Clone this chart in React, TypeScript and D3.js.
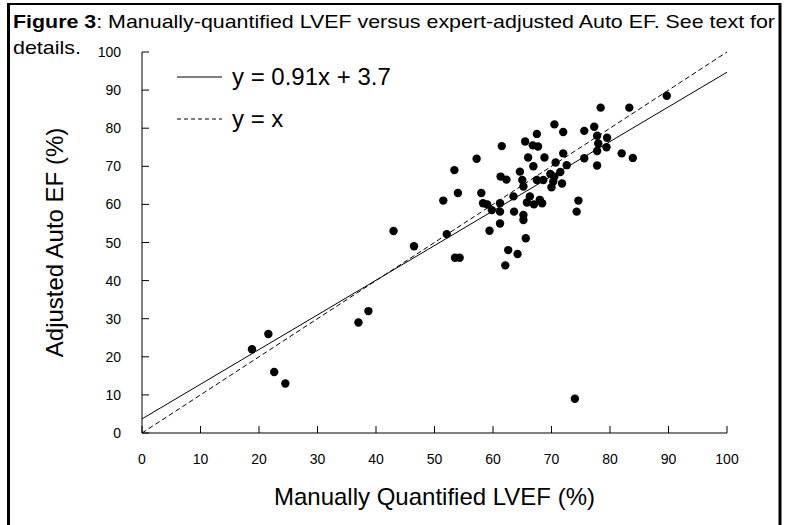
import * as d3 from 'd3';

// Manually quantified LVEF (x) vs expert-adjusted Auto EF (y)
const manualLVEF = [
  18.8, 21.6, 22.6, 24.5, 37, 38.7, 43, 46.5, 74,
  51.5, 52.1, 53.4, 54, 53.5, 54.3, 57.2, 58,
  58.3, 59.8, 61.2, 61.2, 59.4, 61.2, 62.6, 64.2, 62.1, 65.6, 65.2, 65.2, 63.6,
  61.5, 65.5, 66.8, 67.7, 67.5, 70.5, 72,
  66, 68.8, 72, 70.7, 72.6, 71.5, 70.5,
  61.3, 62.3, 64.6, 66.9, 65, 65.2, 67.5, 68.6, 69.8, 70.3, 70, 71.8,
  74.6, 74.3, 59, 63.5, 66.3, 68, 65.8, 67, 68.4,
  75.6, 77.3, 78.4, 83.3, 89.7, 77.8, 79.5, 78, 79.4, 77.8, 82, 83.9, 77.8, 75.6,
];
const adjustedAutoEF = [
  22, 26, 16, 13, 29, 32, 53, 49, 9,
  61, 52.2, 69, 63, 46, 46, 72, 63,
  60.3, 58.5, 58.1, 60.3, 53.1, 55, 48, 47, 44, 51.1, 57.2, 55.9, 58.1,
  75.3, 76.5, 75.5, 75.2, 78.5, 81, 79,
  72.3, 72.3, 73.4, 71, 70.3, 68.5, 67.3,
  67.3, 66.5, 68.6, 70, 66.4, 64.7, 66.4, 66.4, 68, 66, 64.5, 65.5,
  61, 58.1, 60, 62.1, 62.1, 61.2, 60.5, 60, 60.3,
  79.3, 80.4, 85.4, 85.4, 88.5, 78, 77.5, 76, 75, 74, 73.4, 72.2, 70.2, 72.1,
];
const xTicks = [0, 10, 20, 30, 40, 50, 60, 70, 80, 90, 100];
const yTicks = [0, 10, 20, 30, 40, 50, 60, 70, 80, 90, 100];
const fitSlope = 0.91;
const fitIntercept = 3.7;

const W = 796;
const H = 525;
const font = 'Liberation Sans, Arial, Helvetica, sans-serif';
const tickFont = 'Liberation Sans Narrow, Arial Narrow, Liberation Sans, Arial, sans-serif';

export default function App() {
  const x = d3.scaleLinear().domain([0, 100]).range([142, 727]);
  const y = d3.scaleLinear().domain([0, 100]).range([433, 52]);

  const points = manualLVEF.map((v, i) => ({ x: v, y: adjustedAutoEF[i] }));
  const line = d3
    .line<number>()
    .x((d) => x(d))
    .y((d) => y(d));
  const fitLine = d3
    .line<number>()
    .x((d) => x(d))
    .y((d) => y(fitSlope * d + fitIntercept));

  return (
    <svg
      width={W}
      height={H}
      style={{ position: 'absolute', left: 0, top: 0, background: '#fff' }}
      fontFamily={font}
    >
      {/* frame */}
      <line x1={7} x2={781} y1={4} y2={4} stroke="#000" strokeWidth={2} />
      <line x1={8.5} x2={8.5} y1={3} y2={H} stroke="#000" strokeWidth={3} />
      <line x1={780} x2={780} y1={3} y2={H} stroke="#000" strokeWidth={3} />

      {/* caption */}
      <text x={13} y={28} fontSize={19} fill="#000" textLength={762} lengthAdjust="spacingAndGlyphs">
        <tspan fontWeight="bold">Figure 3</tspan>
        <tspan>: Manually-quantified LVEF versus expert-adjusted Auto EF. See text for</tspan>
      </text>
      <text x={13} y={54} fontSize={19} fill="#000" textLength={68} lengthAdjust="spacingAndGlyphs">
        details.
      </text>

      {/* axes */}
      <path
        d={`M${x(0)},${y(100)}V${y(0)}H${x(100)}`}
        fill="none"
        stroke="#000"
        strokeWidth={1}
      />
      {yTicks.map((t) => (
        <g key={'y' + t}>
          <line x1={x(0)} x2={x(0) + 7} y1={y(t)} y2={y(t)} stroke="#000" />
          <text
            x={121}
            y={y(t)}
            dy="0.36em"
            textAnchor="end"
            fontSize={14}
            fontFamily={tickFont}
            fill="#000"
          >
            {t}
          </text>
        </g>
      ))}
      {xTicks.map((t) => (
        <g key={'x' + t}>
          <line x1={x(t)} x2={x(t)} y1={y(0)} y2={y(0) - 7} stroke="#000" />
          <text
            x={x(t)}
            y={464}
            textAnchor="middle"
            fontSize={14}
            fontFamily={tickFont}
            fill="#000"
          >
            {t}
          </text>
        </g>
      ))}

      {/* reference lines */}
      <path
        d={line([0, 100]) || ''}
        fill="none"
        stroke="#000"
        strokeWidth={1}
        strokeDasharray="5,3"
      />
      <path d={fitLine([0, 100]) || ''} fill="none" stroke="#000" strokeWidth={1} />

      {/* points */}
      {points.map((p, i) => (
        <circle key={i} cx={x(p.x)} cy={y(p.y)} r={4.2} fill="#000" />
      ))}

      {/* legend */}
      <line x1={177} x2={222} y1={77} y2={77} stroke="#000" />
      <text x={232} y={85} fontSize={24} fill="#000">y = 0.91x + 3.7</text>
      <line x1={177} x2={222} y1={119} y2={119} stroke="#000" strokeDasharray="4,3" />
      <text x={232} y={127} fontSize={24} fill="#000">y = x</text>

      {/* axis titles */}
      <text x={x(50)} y={505} textAnchor="middle" fontSize={24} fill="#000">
        Manually Quantified LVEF (%)
      </text>
      <text
        transform={`translate(63,${(y(0) + y(100)) / 2}) rotate(-90)`}
        textAnchor="middle"
        fontSize={24}
        fill="#000"
      >
        Adjusted Auto EF (%)
      </text>
    </svg>
  );
}
